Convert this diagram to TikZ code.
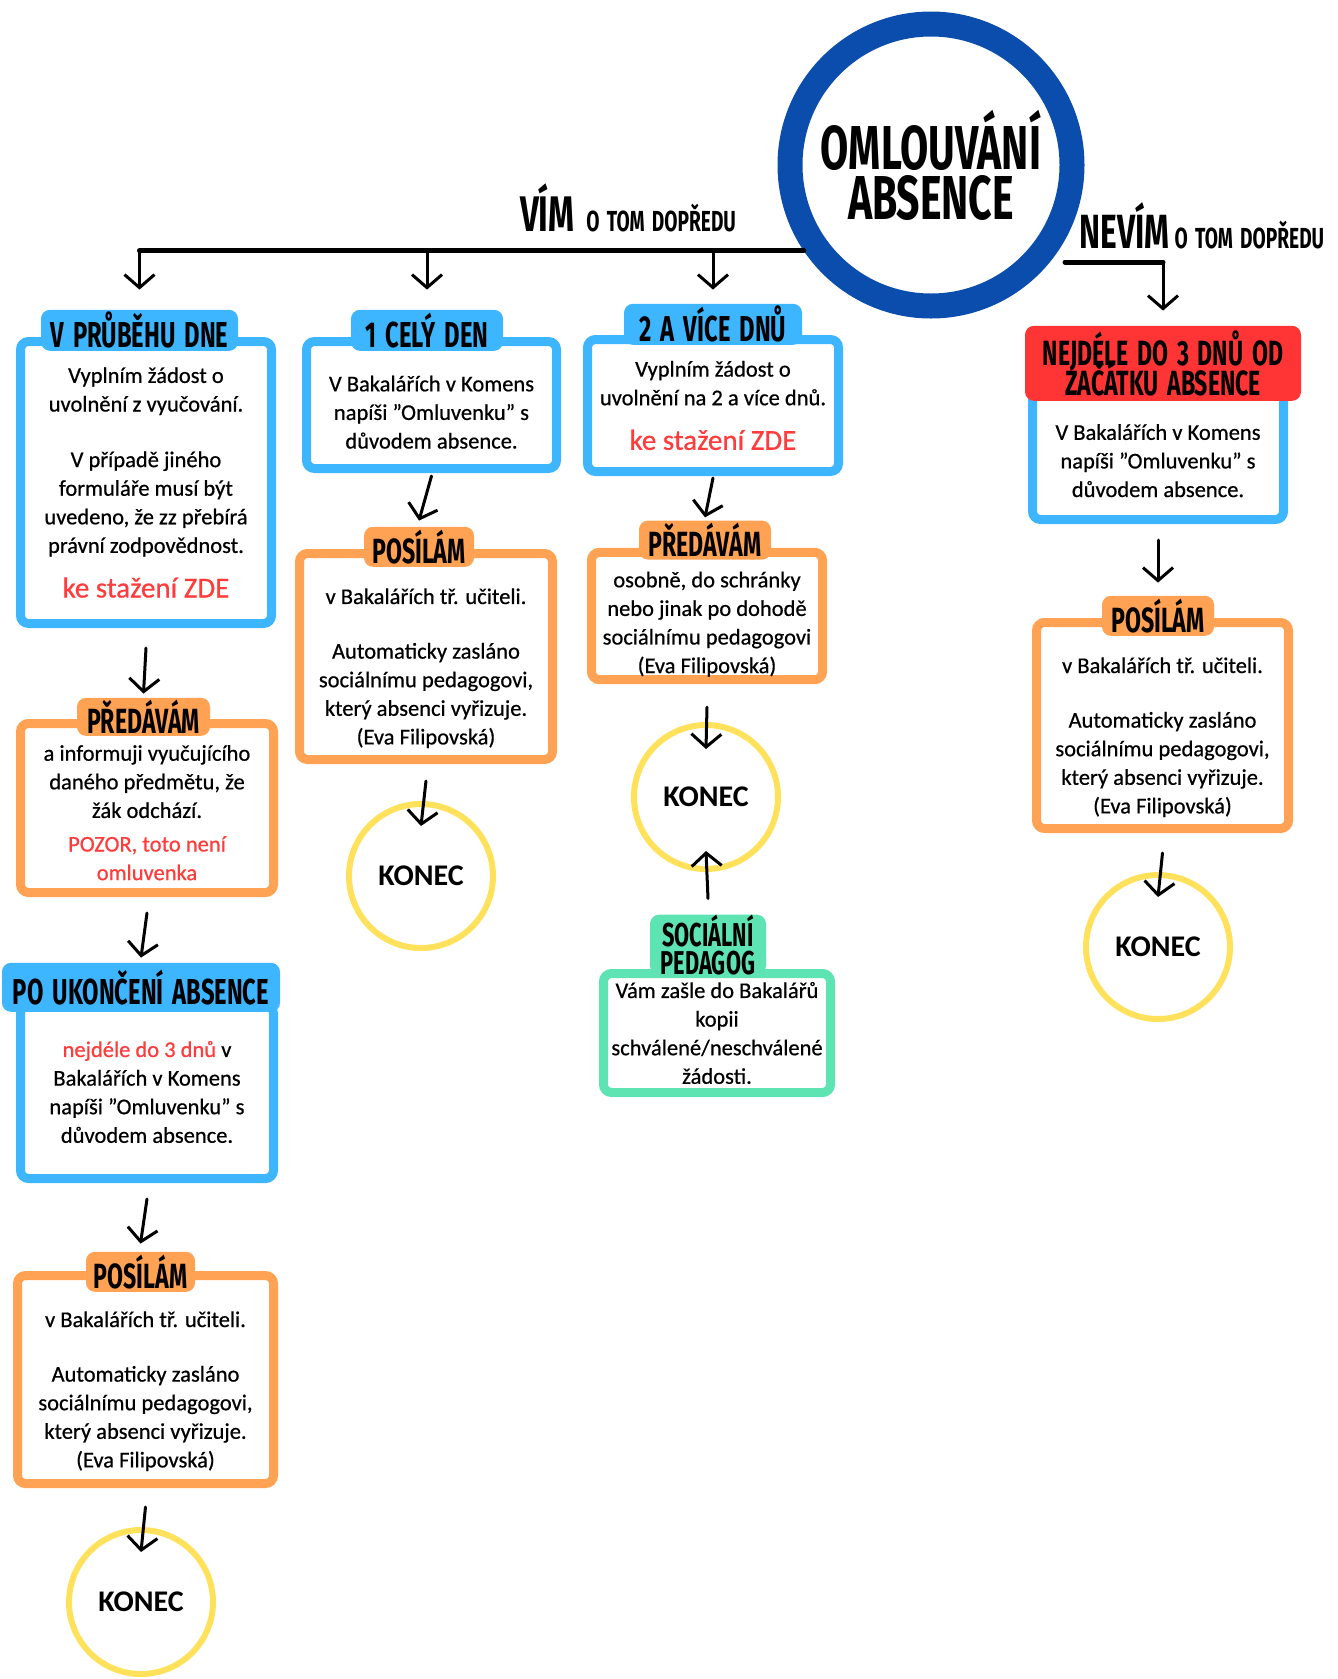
\documentclass[tikz,border=0pt]{standalone}
\usepackage{fontspec}
\setmainfont{Carlito}
\newfontfamily\bodyfont{Carlito}[FakeBold=0.6, Ligatures=TeX]
\newfontfamily\headfont{Fira Sans}[FakeStretch=0.66, WordSpace=1.6]
\usetikzlibrary{positioning, arrows.meta}

\definecolor{skyblue}{HTML}{3DB5FF}
\definecolor{orng}{HTML}{FFA254}
\definecolor{tabred}{HTML}{FF3535}
\definecolor{mint}{HTML}{5EE3B2}
\definecolor{sun}{HTML}{FFE15C}
\definecolor{navy}{HTML}{0B4DAD}
\definecolor{redtxt}{HTML}{FF3B3B}

\lineskiplimit=-30pt
\newcommand{\lift}[1]{\rule{0pt}{#1}}
\newcommand{\stazeni}{{\color{redtxt}\fontsize{29}{29}\selectfont ke stažení ZDE}}
\newcommand{\posilamtext}{\lift{39pt}v Bakalářích tř. učiteli.\\[26pt]Automaticky zasláno\\sociálnímu pedagogovi,\\který absenci vyřizuje.\\(Eva Filipovská)}
\newcommand{\komenstext}{\lift{30pt}V Bakalářích v Komens\\napíši ”Omluvenku” s\\důvodem absence.}

\tikzset{
  boxframe/.style={draw, line width=9pt, fill=white, rounded corners=8pt,
                   inner sep=3pt, align=center, font=\bodyfont\fontsize{22.5}{28.6}\selectfont},
  bluebox/.style={boxframe, draw=skyblue},
  orangebox/.style={boxframe, draw=orng},
  greenbox/.style={boxframe, draw=mint},
  headtab/.style={rounded corners=9pt, inner sep=0pt, align=center,
                  font=\headfont\bfseries\fontsize{36}{36}\selectfont},
  smalltab/.style={headtab, font=\headfont\bfseries\fontsize{35}{35}\selectfont},
  konec/.style={circle, draw=sun, line width=6pt, minimum size=144pt, inner sep=0pt,
                font=\bfseries\fontsize{30}{30}\selectfont},
  hand/.style={line width=5pt, line cap=round},
  arr/.style={line width=3pt, line cap=round, -{Straight Barb[length=13pt,width=30pt]}}
}

\begin{document}
\begin{tikzpicture}[x=1pt, y=-1pt]
\fill[white] (0,0) rectangle (1338,1679);
\useasboundingbox (0,0) rectangle (1338,1679);

% title ring and the two branches
\node[circle, draw=navy, line width=25pt, minimum size=282pt, align=center,
      font=\headfont\bfseries\fontsize{62}{50}\selectfont] (main) at (931,165) {OMLOUVÁNÍ\\ABSENCE};
\node[anchor=base, font=\headfont\bfseries] (vimlbl) at (628,231)
     {{\fontsize{50}{50}\selectfont VÍM}\hspace{12pt}{\fontsize{29}{29}\selectfont O TOM DOPŘEDU}};
\node[anchor=base, font=\headfont\bfseries] (nevimlbl) at (1202,248)
     {{\fontsize{48}{48}\selectfont NEVÍM}\hspace{5pt}{\fontsize{29}{29}\selectfont O TOM DOPŘEDU}};
\coordinate (nevimL) at (1065,262);

% first row
\node[bluebox, minimum width=251pt, minimum height=282pt] (durday) at (146,482.5)
     {Vyplním žádost o\\uvolnění z vyučování.\\[27pt]V případě jiného\\formuláře musí být\\uvedeno, že zz přebírá\\právní zodpovědnost.\\[16pt]\stazeni};
\node[headtab, fill=skyblue, minimum width=197pt, minimum height=41pt, above=-14pt of durday, xshift=-6.5pt] (durdayT) {V PRŮBĚHU DNE};

\node[bluebox, minimum width=250pt, minimum height=127pt] (oneday) at (431.5,405) {\komenstext};
\node[headtab, fill=skyblue, minimum width=152pt, minimum height=41pt, above=-14pt of oneday, xshift=-4.5pt] (onedayT) {1 CELÝ DEN};

\node[bluebox, minimum width=251pt, minimum height=132pt] (moredays) at (713,405.5)
     {Vyplním žádost o\\uvolnění na 2 a více dnů.\\[16pt]\stazeni};
\node[headtab, fill=skyblue, minimum width=178pt, minimum height=41pt, above=-10pt of moredays] (moredaysT) {2 A VÍCE DNŮ};

\node[bluebox, minimum width=251pt, minimum height=132pt] (late) at (1158,453.5) {\komenstext};
\node[headtab, fill=tabred, minimum width=276pt, minimum height=75pt, above=-18pt of late, xshift=5pt,
      font=\headfont\bfseries\fontsize{35}{30}\selectfont] (lateT) {NEJDÉLE DO 3 DNŮ OD\\ZAČÁTKU ABSENCE};

% second row
\node[orangebox, minimum width=253pt, minimum height=169pt] (handL) at (147,808)
     {\lift{25pt}a informuji vyučujícího\\daného předmětu, že\\žák odchází.\\[5pt]\textcolor{redtxt}{POZOR, toto není}\\\textcolor{redtxt}{omluvenka}};
\node[smalltab, fill=orng, minimum width=133pt, minimum height=38pt, above=-17pt of handL, xshift=-3.5pt] (handLT) {PŘEDÁVÁM};

\node[orangebox, minimum width=253pt, minimum height=206pt] (sendC) at (426,656.5) {\posilamtext};
\node[smalltab, fill=orng, minimum width=110pt, minimum height=40pt, above=-18pt of sendC, xshift=-7pt] (sendCT) {POSÍLÁM};

\node[orangebox, minimum width=231pt, minimum height=121pt] (handR) at (707,616)
     {\lift{32pt}osobně, do schránky\\nebo jinak po dohodě\\sociálnímu pedagogovi\\(Eva Filipovská)};
\node[smalltab, fill=orng, minimum width=132pt, minimum height=39pt, above=-12pt of handR, xshift=-2pt] (handRT) {PŘEDÁVÁM};

\node[orangebox, minimum width=252pt, minimum height=206pt] (sendR) at (1162.5,725.5) {\posilamtext};
\node[smalltab, fill=orng, minimum width=112pt, minimum height=40pt, above=-18pt of sendR, xshift=-4.5pt] (sendRT) {POSÍLÁM};

% lower part
\node[bluebox, minimum width=253pt, minimum height=173pt] (after) at (147,1092)
     {{\color{redtxt}nejdéle do 3 dnů} v\\Bakalářích v Komens\\napíši ”Omluvenku” s\\důvodem absence.};
\node[headtab, fill=skyblue, minimum width=278pt, minimum height=49pt, above=-11pt of after, xshift=-6pt] (afterT) {PO UKONČENÍ ABSENCE};

\node[orangebox, minimum width=256pt, minimum height=208pt] (sendL) at (145.5,1379.5) {\posilamtext};
\node[smalltab, fill=orng, minimum width=109pt, minimum height=40pt, above=-21pt of sendL, xshift=-5pt] (sendLT) {POSÍLÁM};

\node[greenbox, minimum width=227pt, minimum height=119pt] (socped) at (717,1033)
     {Vám zašle do Bakalářů\\kopii\\schválené/neschválené\\žádosti.};
\node[headtab, fill=mint, minimum width=116pt, minimum height=59pt, above=-6pt of socped, xshift=-9pt,
      font=\headfont\bfseries\fontsize{33}{28}\selectfont] (socpedT) {SOCIÁLNÍ\\PEDAGOG};

% ends
\node[konec] (endC) at (421,876) {KONEC};
\node[konec] (endM) at (706,797) {KONEC};
\node[konec] (endN) at (1158,947) {KONEC};
\node[konec] (endL) at (141,1602) {KONEC};

% connectors
\draw[hand] (main.214) -- (main.214 -| durdayT.north);
\draw[arr] (main.214 -| durdayT.north) -- ([yshift=20pt]durdayT.north);
\draw[arr] (main.214 -| onedayT.north) -- ([yshift=20pt]onedayT.north);
\draw[arr] (main.214 -| moredaysT.north) -- ([yshift=14pt]moredaysT.north);
\draw[hand] (nevimL) -- (nevimL -| lateT.north);
\draw[arr] (nevimL -| lateT.north) -- ([yshift=15pt]lateT.north);

\draw[arr] ([yshift=-20pt]durday.south) -- ([yshift=4pt]handLT.north);
\draw[arr] ([yshift=-16pt]handL.south) -- ([yshift=5pt]afterT.north);
\draw[arr] ([yshift=-16pt]after.south) -- ([yshift=8pt]sendLT.north);
\draw[arr] ([yshift=-19pt]sendL.south) -- ([yshift=-25pt]endL.north);

\draw[arr] ([yshift=-3pt]oneday.south) -- ([yshift=6pt]sendCT.north);
\draw[arr] ([yshift=-17pt]sendC.south) -- ([yshift=-25pt]endC.north);

\draw[arr] ([yshift=-2pt]moredays.south) -- ([yshift=3pt]handRT.north);
\draw[arr] ([yshift=-23pt]handR.south) -- ([yshift=-27pt]endM.north);
\draw[arr] ([yshift=16pt]socpedT.north) -- ([yshift=21pt]endM.south);

\draw[arr] ([yshift=-16pt]late.south) -- ([yshift=13pt]sendRT.north);
\draw[arr] ([yshift=-20pt]sendR.south) -- ([yshift=-25pt]endN.north);
\end{tikzpicture}
\end{document}
